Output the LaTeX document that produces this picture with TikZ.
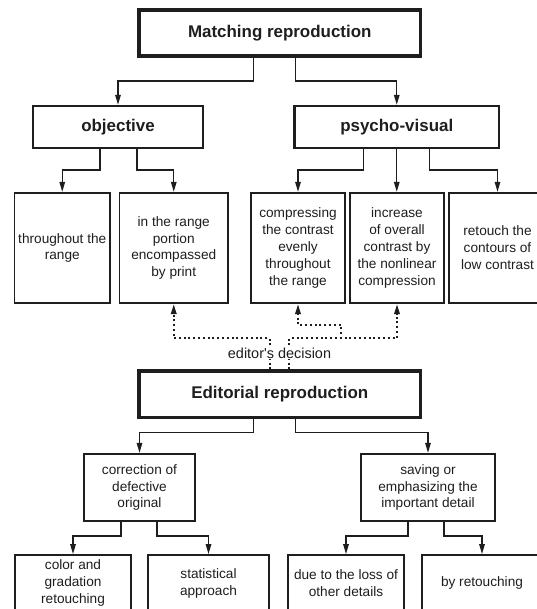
\documentclass[tikz,border=0pt]{standalone}
\usepackage{fontspec}
\setmainfont{Liberation Sans}
\usetikzlibrary{arrows.meta}
\definecolor{ink}{HTML}{1E1E1E}
\newcommand{\BigF}{\fontsize{17}{20}\selectfont\bfseries}
\newcommand{\SmallF}{\fontsize{13.7}{17}\selectfont}
\newcommand{\DecF}{\fontsize{14.5}{17}\selectfont}
% parent -> child, stem shifted by #2, drop #3 before turning
\newcommand{\elbow}[4]{%
  \draw[arr] ([xshift=#2bp]#1.south) -- ++(0,#3) -| (#4.north);
}

\begin{document}
\begin{tikzpicture}[x=1bp,y=-1bp,
  topbox/.style={draw=ink, line width=3.4bp, inner sep=0, font=\BigF, text=ink},
  midbox/.style={draw=ink, line width=2.3bp, inner sep=0, font=\BigF, text=ink},
  leafbox/.style={draw=ink, line width=1.8bp, inner sep=0, align=center, font=\SmallF, text=ink},
  arr/.style={draw=ink, line width=1.4bp, -{Triangle[length=10bp,width=5.5bp]}},
  dotarr/.style={arr, line width=2bp, dash pattern=on 2bp off 2.8bp}]
\useasboundingbox (0,0) rectangle (537,609);

% matching branch
\node[topbox, minimum width=281.5bp, minimum height=46bp] (match) at (279.75,33) {Matching reproduction};
\node[midbox, minimum width=170bp, minimum height=42bp] (obj) at (118,127) {objective};
\node[midbox, minimum width=204.5bp, minimum height=42bp] (psy) at (396.75,127) {psycho-visual};

\node[leafbox, minimum width=95.5bp, minimum height=110.5bp] (whole) at (62.25,248) {throughout the\\range};
\node[leafbox, minimum width=108.5bp, minimum height=110.5bp] (part) at (173.75,248) {in the range\\portion\\encompassed\\by print};
\node[leafbox, minimum width=94bp, minimum height=110.5bp] (even) at (298,248) {compressing\\the contrast\\evenly\\throughout\\the range};
\node[leafbox, minimum width=94.5bp, minimum height=110.5bp] (nonlin) at (397,248) {increase\\of overall\\contrast by\\the nonlinear\\compression};
\node[leafbox, minimum width=97bp, minimum height=110.5bp] (contour) at (497.5,248) {retouch the\\contours of\\low contrast};

\elbow{match}{-26.5}{23.5}{obj}
\elbow{match}{15.5}{23.5}{psy}
\elbow{obj}{-18}{21}{whole}
\elbow{obj}{19}{21}{part}
\elbow{psy}{-33}{21}{even}
\draw[arr] (psy.south) -- (psy.south |- nonlin.north);
\elbow{psy}{33}{21}{contour}

% editorial branch
\node[topbox, minimum width=281.5bp, minimum height=46.5bp] (edit) at (279.75,394.25) {Editorial reproduction};
\node[leafbox, line width=2.3bp, minimum width=110.5bp, minimum height=67bp] (corr) at (139.5,487.5) {correction of\\defective\\original};
\node[leafbox, line width=2.3bp, minimum width=134bp, minimum height=67bp] (save) at (428,487.5) {saving or\\emphasizing the\\important detail};

\node[leafbox, minimum width=116bp, minimum height=56bp] (grad) at (73,583) {color and\\gradation\\retouching};
\node[leafbox, minimum width=121bp, minimum height=56bp] (stat) at (208.5,583) {statistical\\approach};
\node[leafbox, minimum width=116bp, minimum height=56bp] (loss) at (346,583) {due to the loss of\\other details};
\node[leafbox, minimum width=120bp, minimum height=56bp] (retouch) at (482,583) {by retouching};

\elbow{edit}{-26.5}{13.5}{corr}
\elbow{edit}{15.5}{13.5}{save}
\elbow{corr}{-18.5}{14}{grad}
\elbow{corr}{17.5}{14}{stat}
\elbow{save}{-20}{14}{loss}
\elbow{save}{16}{14}{retouch}

% editor's decision
\coordinate (split) at (341,339);
\draw[dotarr] ([xshift=-10bp]edit.north) -- ++(0,-31) -| (part.south);
\draw[dotarr] ([xshift=9.5bp]edit.north) -- ++(0,-31) -| (nonlin.south);
\draw[dotarr] (split) -- ++(0,-14) -| (even.south);
\node[fill=white, inner sep=1bp, font=\DecF, text=ink] (dec) at (279.5,353) {editor\textquotesingle s decision};
\end{tikzpicture}
\end{document}
